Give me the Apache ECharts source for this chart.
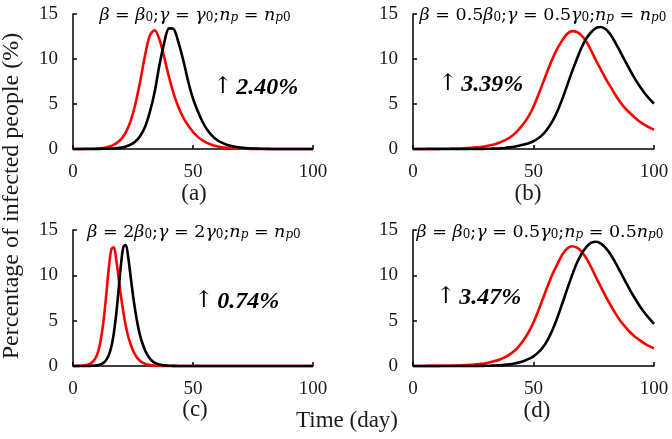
<!DOCTYPE html>
<html>
<head>
<meta charset="utf-8">
<script src="https://cdn.jsdelivr.net/npm/echarts@6/dist/echarts.min.js"></script>
<style>html,body{margin:0;padding:0;background:#fff}#c{width:672px;height:439px}</style>
</head>
<body>
<div id="c"></div>
<script>
// x values (days)
var days = [0,2,4,6,8,10,12,14,16,18,20,22,24,26,28,30,32,34,36,38,40,42,44,46,48,50,52,54,56,58,60,62,64,66,68,70,72,74,76,78,80,82,84,86,88,90,92,94,96,98,100];
var daysC = [0,1,2,3,4,5,6,7,8,9,10,11,12,13,14,15,16,17,18,19,20,21,22,23,24,25,26,27,28,29,30,31,32,33,34,35,36,37,38,39,40,41,42,43,44,45,50,60,70,80,90,100];

// (a) beta=beta0; gamma=gamma0; np=np0
var redA = [0,0.006,0.01,0.02,0.035,0.06,0.11,0.2,0.35,0.62,1.07,1.85,3.1,5.0,7.5,10.4,12.6,13.2,12.2,10.2,8.0,6.1,4.6,3.45,2.6,1.9,1.35,0.95,0.65,0.45,0.3,0.2,0.13,0.09,0.06,0.04,0.025,0.015,0.01,0,0,0,0,0,0,0,0,0,0,0,0];
var blackA = [0,0,0,0,0,0,0.02,0.03,0.05,0.09,0.15,0.28,0.48,0.84,1.45,2.45,4.1,6.3,9.3,11.8,13.4,13.3,11.8,9.8,7.5,5.6,4.2,3.0,2.1,1.45,1.0,0.7,0.48,0.33,0.22,0.15,0.1,0.07,0.05,0.03,0.02,0.01,0,0,0,0,0,0,0,0,0];

// (b) beta=0.5beta0; gamma=0.5gamma0; np=np0
var redB = [0,0,0.005,0.01,0.01,0.015,0.02,0.03,0.04,0.05,0.07,0.1,0.13,0.18,0.23,0.31,0.41,0.54,0.72,0.95,1.25,1.65,2.2,2.85,3.65,4.7,6.0,7.4,8.8,10.1,11.2,12.1,12.8,13.1,13.0,12.6,11.9,10.9,9.8,8.8,7.8,6.9,6.0,5.2,4.55,4.0,3.5,3.05,2.7,2.4,2.15];
var blackB = [0,0,0,0,0,0,0,0,0,0,0,0,0,0,0.01,0.02,0.03,0.05,0.08,0.12,0.18,0.26,0.37,0.5,0.65,0.88,1.2,1.65,2.3,3.15,4.25,5.6,7.1,8.6,10.0,11.3,12.3,13.0,13.45,13.55,13.3,12.7,11.8,10.8,9.8,8.8,7.85,7.0,6.25,5.6,5.05];

// (c) beta=2beta0; gamma=2gamma0; np=np0
var redC = [0,0.007,0.012,0.024,0.04,0.07,0.13,0.23,0.41,0.72,1.23,2.12,3.55,5.6,8.25,11.0,12.9,13.1,11.75,9.7,7.65,5.9,4.4,3.25,2.4,1.7,1.2,0.82,0.55,0.37,0.25,0.17,0.11,0.07,0.05,0.03,0.02,0.015,0.01,0.005,0,0,0,0,0,0,0,0,0,0,0,0];
var blackC = [0,0,0,0,0,0,0.007,0.012,0.025,0.04,0.07,0.13,0.23,0.42,0.73,1.25,2.15,3.6,5.7,8.4,11.2,13.15,13.35,12.0,9.9,7.8,6.0,4.5,3.3,2.45,1.75,1.22,0.84,0.56,0.38,0.26,0.17,0.11,0.07,0.05,0.03,0.02,0.015,0.01,0.005,0,0,0,0,0,0,0];

// (d) beta=beta0; gamma=0.5gamma0; np=0.5np0
var redD = [0,0,0.005,0.01,0.01,0.015,0.02,0.03,0.04,0.05,0.07,0.1,0.13,0.18,0.23,0.31,0.41,0.54,0.72,0.95,1.25,1.65,2.2,2.9,3.75,4.8,6.1,7.5,8.9,10.2,11.3,12.3,12.95,13.2,13.05,12.6,11.85,10.85,9.75,8.7,7.65,6.7,5.8,5.0,4.35,3.75,3.25,2.85,2.5,2.2,1.95];
var blackD = [0,0,0,0,0,0,0,0,0,0,0,0,0,0,0.01,0.02,0.03,0.05,0.08,0.12,0.18,0.27,0.4,0.56,0.78,1.07,1.5,2.1,2.95,4.05,5.4,6.95,8.5,10.0,11.35,12.4,13.15,13.6,13.7,13.5,13.0,12.3,11.4,10.4,9.4,8.4,7.5,6.65,5.9,5.25,4.65];

var xTicks = [0, 50, 100];
var yTicks = [0, 5, 10, 15];
var panelLabels = ['(a)', '(b)', '(c)', '(d)'];
var increases = ['2.40%', '3.39%', '0.74%', '3.47%'];
var titles = [
  '{m|β}{u| = }{m|β}{s|0}{u|;}{m|γ}{u| = }{m|γ}{s|0}{u|;}{m|n}{si|p}{u| = }{m|n}{si|p}{s|0}',
  '{m|β}{u| = 0.5}{m|β}{s|0}{u|;}{m|γ}{u| = 0.5}{m|γ}{s|0}{u|;}{m|n}{si|p}{u| = }{m|n}{si|p}{s|0}',
  '{m|β}{u| = 2}{m|β}{s|0}{u|;}{m|γ}{u| = 2}{m|γ}{s|0}{u|;}{m|n}{si|p}{u| = }{m|n}{si|p}{s|0}',
  '{m|β}{u| = }{m|β}{s|0}{u|;}{m|γ}{u| = 0.5}{m|γ}{s|0}{u|;}{m|n}{si|p}{u| = 0.5}{m|n}{si|p}{s|0}'
];

function pairs(xs, ys) { return xs.map(function (x, i) { return [x, ys[i]]; }); }

var SERIF = '"Liberation Serif", "DejaVu Serif", serif';
var grids = [
  {left: 73, top: 14, width: 240, height: 135},
  {left: 413, top: 14, width: 241, height: 135},
  {left: 73, top: 230, width: 240, height: 136},
  {left: 413, top: 230, width: 241, height: 136}
];
var xAxes = [], yAxes = [];
for (var i = 0; i < 4; i++) {
  xAxes.push({
    type: 'value', gridIndex: i, min: xTicks[0], max: xTicks[xTicks.length - 1], interval: xTicks[1] - xTicks[0],
    axisLine: {lineStyle: {color: '#000', width: 1.5}},
    axisTick: {inside: true, length: 4, lineStyle: {color: '#000', width: 1.5}},
    axisLabel: {margin: 14, color: '#1a1a1a', fontFamily: SERIF, fontSize: 19},
    splitLine: {show: false}
  });
  yAxes.push({
    type: 'value', gridIndex: i, min: yTicks[0], max: yTicks[yTicks.length - 1], interval: yTicks[1] - yTicks[0],
    axisLine: {show: true, lineStyle: {color: '#000', width: 1.5}},
    axisTick: {show: true, inside: true, length: 4, lineStyle: {color: '#000', width: 1.5}},
    axisLabel: {margin: 15, color: '#1a1a1a', fontFamily: SERIF, fontSize: 19},
    splitLine: {show: false}
  });
}
var dataSets = [
  [days, redA, blackA], [days, redB, blackB], [daysC, redC, blackC], [days, redD, blackD]
];
var series = [];
dataSets.forEach(function (d, i) {
  series.push({type: 'line', xAxisIndex: i, yAxisIndex: i, data: pairs(d[0], d[1]), showSymbol: false, smooth: 0.3, clip: false,
    lineStyle: {color: '#ff0000', width: 2.6}, z: 3});
  series.push({type: 'line', xAxisIndex: i, yAxisIndex: i, data: pairs(d[0], d[2]), showSymbol: false, smooth: 0.3, clip: false,
    lineStyle: {color: '#000000', width: 2.6}, z: 4});
});

var titleRich = {
  m: {fontFamily: '"DejaVu Serif", serif', fontStyle: 'italic', fontSize: 17.5, color: '#1a1a1a'},
  u: {fontFamily: '"DejaVu Serif", serif', fontSize: 17.5, color: '#1a1a1a'},
  s: {fontFamily: '"DejaVu Serif", serif', fontSize: 12, color: '#1a1a1a', verticalAlign: 'bottom', padding: [6, 0, 0, 0]},
  si: {fontFamily: '"DejaVu Serif", serif', fontStyle: 'italic', fontSize: 12, color: '#1a1a1a', verticalAlign: 'bottom', padding: [6, 0, 0, 0]}
};
var titlePos = [[195, 15], [543, 15], [194, 232], [540, 232]];
var labelPos = [[194, 194], [528, 194], [195, 410], [537, 411]];
var incPos = [[213, 88], [438, 85], [194, 302], [436, 298]];

var graphics = [];
for (var k = 0; k < 4; k++) {
  graphics.push({type: 'text', x: titlePos[k][0], y: titlePos[k][1], z: 10,
    style: {text: titles[k], rich: titleRich, align: 'center', verticalAlign: 'middle'}});
  graphics.push({type: 'text', x: labelPos[k][0], y: labelPos[k][1], z: 10,
    style: {text: panelLabels[k], fill: '#1a1a1a', font: '23px ' + SERIF, align: 'center', verticalAlign: 'middle'}});
  graphics.push({type: 'text', x: incPos[k][0], y: incPos[k][1], z: 10,
    style: {text: '{a|↑}{sp| }{n|' + increases[k] + '}', align: 'left', verticalAlign: 'middle',
      rich: {
        a: {fontFamily: '"DejaVu Serif", serif', fontSize: 23, color: '#1a1a1a', padding: [0, 0, 2, 0]},
        sp: {fontFamily: SERIF, fontSize: 16, color: '#1a1a1a'},
        n: {fontFamily: SERIF, fontSize: 24, fontWeight: 'bold', fontStyle: 'italic', color: '#1a1a1a'}
      }}});
}
graphics.push({type: 'text', x: 12, y: 196, rotation: Math.PI / 2, z: 10,
  style: {text: 'Percentage of infected people (%)', fill: '#1a1a1a', font: '24px ' + SERIF, align: 'center', verticalAlign: 'middle'}});
graphics.push({type: 'text', x: 347, y: 421, z: 10,
  style: {text: 'Time (day)', fill: '#1a1a1a', font: '23px ' + SERIF, align: 'center', verticalAlign: 'middle'}});

var chart = echarts.init(document.getElementById('c'), null, {renderer: 'canvas'});
chart.setOption({
  animation: false,
  backgroundColor: '#ffffff',
  grid: grids,
  xAxis: xAxes,
  yAxis: yAxes,
  series: series,
  graphic: graphics
});
</script>
</body>
</html>
